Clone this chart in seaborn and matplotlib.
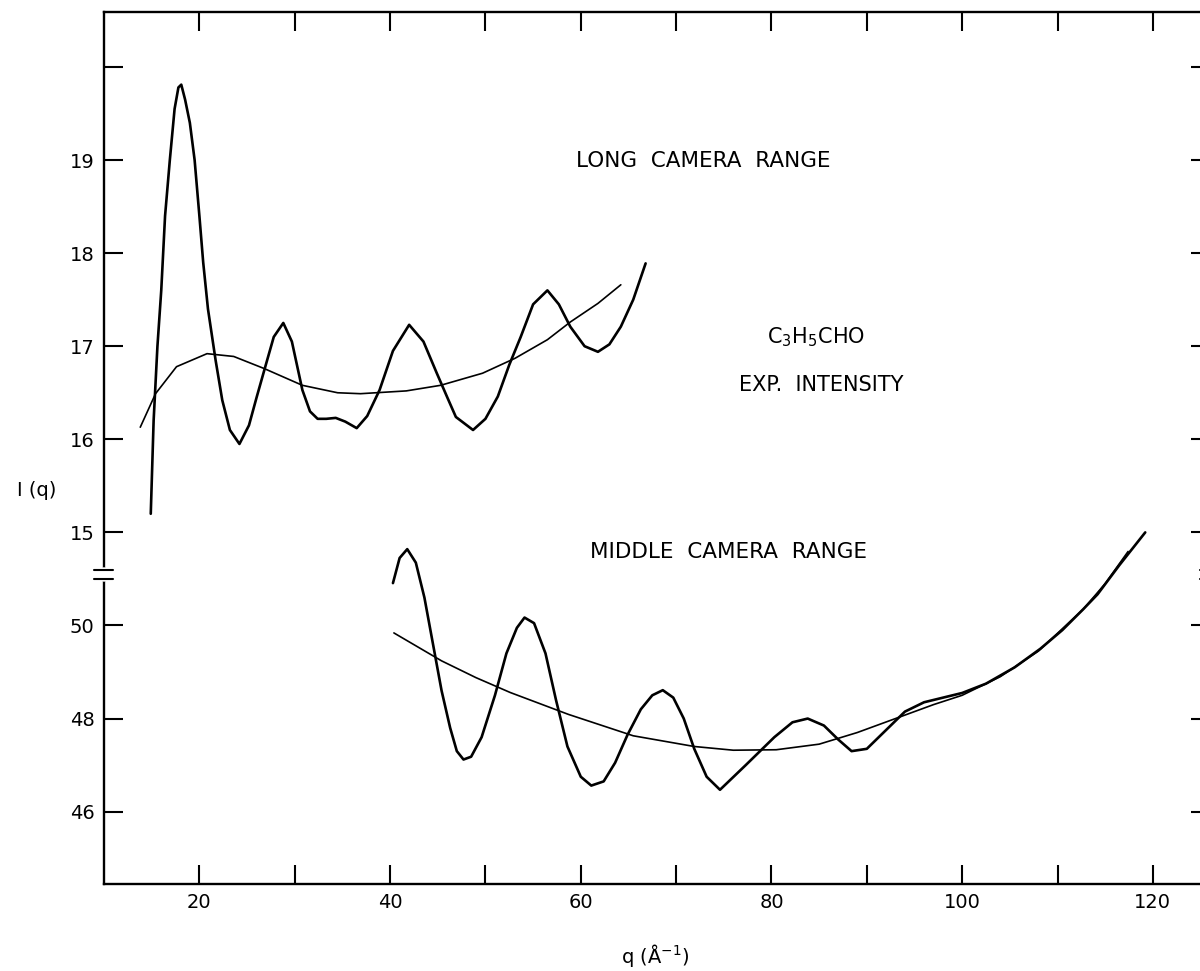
import numpy as np
import matplotlib as mpl; mpl.use("Agg")
import matplotlib.pyplot as plt
import seaborn as sns

# ---- long camera range (upper scale, I(q) read directly) ----
LONG_Q = [14.9, 15.2, 15.6, 16.0, 16.4, 16.9, 17.4, 17.8, 18.1, 18.5, 19.0, 19.5, 20.0, 20.4, 20.9,
          21.7, 22.4, 23.2, 24.2, 25.2, 26.0, 26.8, 27.8, 28.8, 29.7, 30.8, 31.6, 32.4, 33.3, 34.3,
          35.3, 36.5, 37.6, 38.9, 40.3, 42.0, 43.5, 44.9, 46.0, 46.9, 48.7, 50.0, 51.3, 52.5, 53.7,
          55.0, 56.5, 57.7, 58.9, 60.4, 61.8, 63.0, 64.2, 65.5, 66.8]
LONG_I = [15.2, 16.2, 17.0, 17.6, 18.4, 19.0, 19.55, 19.78, 19.81, 19.65, 19.4, 19.0, 18.4, 17.9, 17.4,
          16.85, 16.42, 16.1, 15.95, 16.15, 16.45, 16.74, 17.1, 17.25, 17.05, 16.53, 16.3, 16.22, 16.22, 16.23,
          16.19, 16.12, 16.25, 16.53, 16.95, 17.23, 17.05, 16.71, 16.45, 16.24, 16.1, 16.22, 16.46, 16.8, 17.1,
          17.45, 17.6, 17.45, 17.21, 17.0, 16.94, 17.02, 17.21, 17.5, 17.89]
LONG_BG_Q = [13.8, 15.4, 17.6, 20.8, 23.6, 26.8, 30.8, 34.5, 36.9, 41.7, 45.3, 49.7, 53.1, 56.5, 58.9, 61.8, 64.2]
LONG_BG_I = [16.13, 16.49, 16.78, 16.92, 16.89, 16.76, 16.58, 16.5, 16.49, 16.52, 16.58, 16.71, 16.87, 17.07, 17.26, 17.46, 17.66]

# ---- middle camera range (lower scale, 46-52) ----
MID_Q = [40.3, 41.0, 41.8, 42.7, 43.6, 44.5, 45.4, 46.3, 47.0, 47.7, 48.5, 49.6, 51.0, 52.2, 53.3,
         54.1, 55.1, 56.3, 57.4, 58.6, 60.0, 61.1, 62.4, 63.6, 64.9, 66.3, 67.5, 68.6, 69.7, 70.8,
         71.9, 73.2, 74.6, 77.3, 80.3, 82.2, 83.8, 85.5, 87.0, 88.4, 90.0, 92.0, 94.0, 96.0, 98.0,
         100.0, 102.5, 105.5, 108.2, 110.5, 112.7, 114.2, 116.5, 119.2]
MID_I = [50.91, 51.45, 51.64, 51.35, 50.6, 49.6, 48.6, 47.8, 47.3, 47.12, 47.18, 47.6, 48.5, 49.4, 49.95,
         50.17, 50.05, 49.4, 48.4, 47.4, 46.75, 46.56, 46.65, 47.05, 47.65, 48.2, 48.5, 48.61, 48.45, 48.0,
         47.35, 46.75, 46.47, 47.0, 47.6, 47.92, 48.0, 47.85, 47.55, 47.3, 47.35, 47.75, 48.15, 48.35, 48.45,
         48.55, 48.75, 49.1, 49.5, 49.9, 50.35, 50.67, 51.3, 52.0]
MID_BG_Q = [40.4, 45.4, 49.0, 52.6, 58.7, 65.5, 71.9, 76.0, 80.5, 85.0, 89.0, 93.0, 97.0, 100.0, 104.0,
            108.0, 112.7, 115.0, 117.4]
MID_BG_I = [49.84, 49.24, 48.88, 48.56, 48.09, 47.63, 47.4, 47.32, 47.33, 47.45, 47.7, 48.0, 48.3, 48.5, 48.9,
            49.45, 50.35, 50.9, 51.59]

YTICKS = [20, 19, 18, 17, 16, 15, 14, 13, 12]
YLABELS = ["", "19", "18", "17", "16", "15", "50", "48", "46"]
XLABELS = [20, 40, 60, 80, 100, 120]

def lower(v):
    # middle range shares the axis below the break: 50 -> 14, 2 units per step
    return 14 + (np.asarray(v) - 50) / 2

sns.set_theme(style="ticks")
mpl.rcParams.update({"font.family": "DejaVu Sans", "mathtext.fontset": "dejavusans",
                     "text.color": "black", "xtick.color": "black", "ytick.color": "black"})

fig = plt.figure(figsize=(12, 9.71), dpi=100)
ax = fig.add_axes([0.0867, 0.0901, 0.9217, 0.8975])

thick, thin = 1.9, 1.2
sns.lineplot(x=LONG_Q, y=LONG_I, sort=False, estimator=None, color="black", lw=thick, ax=ax)
sns.lineplot(x=LONG_BG_Q, y=LONG_BG_I, sort=False, estimator=None, color="black", lw=thin, ax=ax)
sns.lineplot(x=MID_Q, y=lower(MID_I), sort=False, estimator=None, color="black", lw=thick, ax=ax)
sns.lineplot(x=MID_BG_Q, y=lower(MID_BG_I), sort=False, estimator=None, color="black", lw=thin, ax=ax)

ax.set_xlim(10, 126.0)
ax.set_ylim(11.228, 20.59)
ax.set_xticks(range(20, 121, 10))
ax.set_xticklabels([str(v) if v in XLABELS else "" for v in range(20, 121, 10)])
ax.set_yticks(YTICKS)
ax.set_yticklabels(YLABELS)
ax.tick_params(axis="both", direction="in", length=13.5, width=1.5, colors="black",
               labelsize=14, top=True, right=True)
ax.tick_params(axis="x", pad=7)
ax.tick_params(axis="y", pad=7)
for s in ax.spines.values():
    s.set_linewidth(1.7); s.set_color("black")
ax.set_xlabel(""); ax.set_ylabel("")

# axis break on the left (and right) spine
yt = ax.get_yaxis_transform()
for x0 in (0, 1):
    ax.plot([x0, x0], [14.5, 14.597], transform=yt, color="white", lw=4, clip_on=False, zorder=5)
    for yb in (14.597, 14.5):
        ax.plot([x0 - 0.009, x0 + 0.0085], [yb, yb], transform=yt, color="black", lw=1.5,
                clip_on=False, zorder=6)

ax.text(72.8, 18.99, "LONG  CAMERA  RANGE", ha="center", va="center", fontsize=15.5)
ax.text(84.7, 17.1, "C$_3$H$_5$CHO", ha="center", va="center", fontsize=15)
ax.text(85.2, 16.58, "EXP.  INTENSITY", ha="center", va="center", fontsize=15)
ax.text(75.5, 14.79, "MIDDLE  CAMERA  RANGE", ha="center", va="center", fontsize=15.5)

fig.text(37 / 1200, 1 - 490 / 971, "I (q)", ha="center", va="center", fontsize=14)
fig.text(655 / 1200, 1 - 955 / 971, "q (Å$^{-1}$)", ha="center", va="center", fontsize=14)

fig.savefig("out.png", dpi=100, facecolor="white")
